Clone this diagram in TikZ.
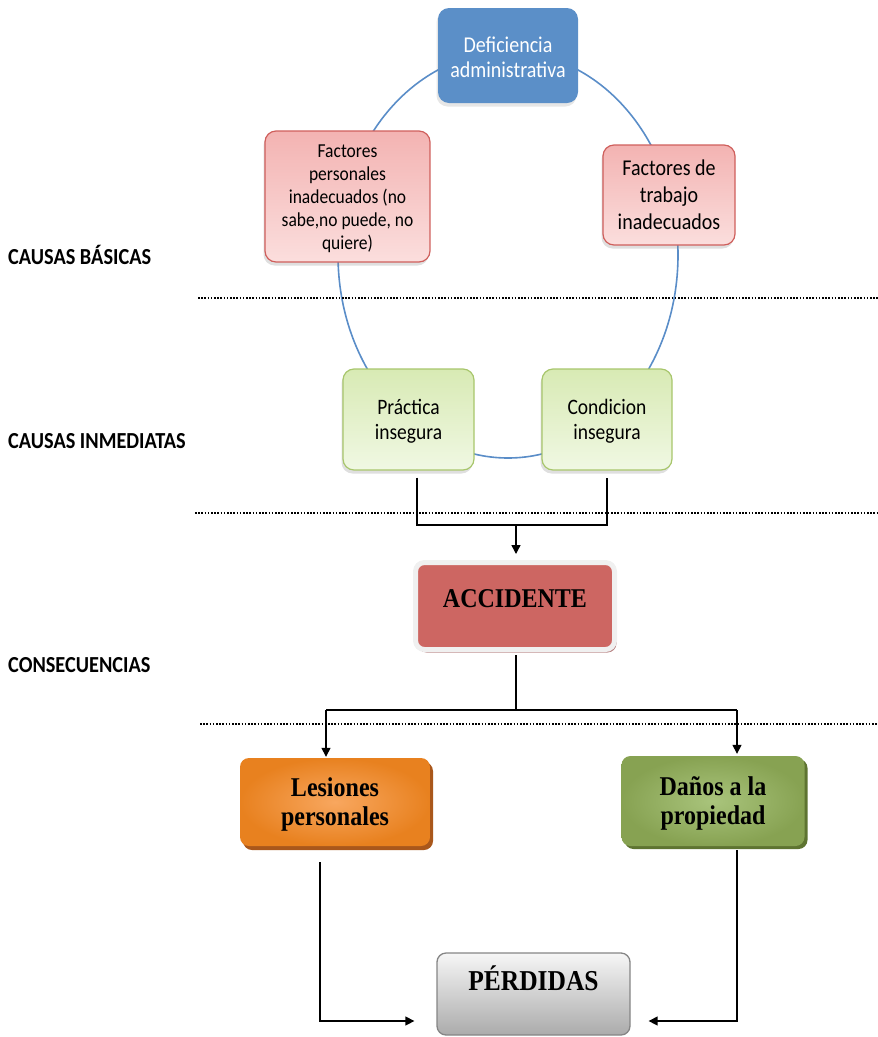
\documentclass[tikz,border=0pt]{standalone}
\usepackage{graphicx}
\usepackage{fontspec}
\setmainfont{Carlito}
\newfontfamily\tnr{Liberation Serif}
\usetikzlibrary{arrows.meta,shadows,calc}
\newcommand\tx[1]{\scalebox{1}[1.13]{\begin{tabular}{@{}c@{}}#1\end{tabular}}}
\definecolor{cblue}{HTML}{5B8FC8}
\definecolor{cring}{HTML}{5A8DC8}
\definecolor{redtop}{HTML}{F3B3B2}
\definecolor{redbot}{HTML}{FBDEDD}
\definecolor{redline}{HTML}{CF5F5C}
\definecolor{grtop}{HTML}{D8EAB4}
\definecolor{grbot}{HTML}{F0F8E3}
\definecolor{grline}{HTML}{A8C66C}
\definecolor{accfill}{HTML}{CD6662}
\definecolor{accshadow}{HTML}{B88585}
\definecolor{orin}{HTML}{F8A75F}
\definecolor{orout}{HTML}{E8811F}
\definecolor{orsh}{HTML}{A9571B}
\definecolor{dgin}{HTML}{A9C47C}
\definecolor{dgout}{HTML}{87A252}
\definecolor{dgsh}{HTML}{5E7431}
\definecolor{grytop}{HTML}{F6F6F6}
\definecolor{grybot}{HTML}{ABABAB}
\definecolor{gryline}{HTML}{858585}
\tikzset{
  softbox/.style={rounded corners=11pt, inner sep=0pt,
    drop shadow={shadow xshift=-1.5pt, shadow yshift=-3.5pt, opacity=0.25}},
  redbox/.style={softbox, draw=redline, line width=1.2pt, top color=redtop, bottom color=redbot},
  grbox/.style={softbox, draw=grline, line width=1.2pt, top color=grtop, bottom color=grbot},
  serifbox/.style={rounded corners=9pt, inner sep=0pt},
  txt/.style={inner sep=0pt, align=center},
  sans/.style={txt, font=\fontsize{#1}{22.1}\selectfont},
  serif/.style={txt, font=\tnr\bfseries\fontsize{24}{26.5}\selectfont},
  conn/.style={line width=1.4pt, black},
  arr/.style={conn, -{Triangle[length=9pt,width=9pt]}},
  sep/.style={line width=1.7pt, dash pattern=on 1.6pt off 1.6pt},
  lbl/.style={anchor=west, font=\bfseries\fontsize{20.3}{22}\selectfont, inner sep=0pt}
}
\begin{document}
\begin{tikzpicture}[x=1pt,y=-1pt]
\useasboundingbox (0,0) rectangle (878,1037);
% ring
\draw[cring, line width=1.6pt] (508,255) ellipse [x radius=170, y radius=203];
% separators
\draw[sep] (198,298) -- (878,298);
\draw[sep] (195,513) -- (878,513);
\draw[sep] (200,724) -- (878,724);
% labels
\node[lbl] (l1) at (8,258.5) {\tx{CAUSAS BÁSICAS}};
\node[lbl] (l2) at (8,443.5) {\tx{CAUSAS INMEDIATAS}};
\node[lbl] (l3) at (8,667.5) {\tx{CONSECUENCIAS}};
% boxes
\node[rounded corners=11pt, fill=cblue, inner sep=0pt,
  minimum width=140pt, minimum height=95pt,
  drop shadow={shadow xshift=-1.5pt, shadow yshift=-3.5pt, opacity=0.2}] (def) at (508,55.5) {};
\node[sans=20, text=white] (defT) at ([yshift=-4.5pt]def.center) {\tx{Deficiencia\\administrativa}};
\node[redbox, minimum width=165pt, minimum height=131pt] (fp) at (347.5,196.5) {};
\node[txt, font=\fontsize{17.5}{20.4}\selectfont] (fpT) at ([yshift=-2pt]fp.center)
  {\tx{Factores\\personales\\inadecuados (no\\sabe,no puede, no\\quiere)}};
\node[redbox, minimum width=132pt, minimum height=100pt] (ft) at (669,195) {};
\node[txt, font=\fontsize{20}{23.9}\selectfont] (ftT) at ([yshift=-2.5pt]ft.center)
  {\tx{Factores de\\trabajo\\inadecuados}};
\node[grbox, minimum width=131pt, minimum height=101pt] (pr) at (408.5,419.5) {};
\node[sans=19.5] (prT) at ([yshift=-2.5pt]pr.center) {\tx{Práctica\\insegura}};
\node[grbox, minimum width=130pt, minimum height=101pt] (co) at (607,419.5) {};
\node[sans=19.5] (coT) at ([yshift=-2.5pt]co.center) {\tx{Condicion\\insegura}};
% accident
\node[serifbox, fill=accfill, draw=black!6, line width=5pt,
  minimum width=199pt, minimum height=87pt,
  drop shadow={shadow xshift=2pt, shadow yshift=-3pt, fill=accshadow, opacity=1}] (acc) at (515,606) {};
\node[serif] (accT) at ([yshift=4pt]acc.center) {\tx{ACCIDENTE}};
% consequences
\node[serifbox, inner color=orin, outer color=orout, minimum width=190pt, minimum height=88pt,
  drop shadow={shadow xshift=3pt, shadow yshift=-4pt, fill=orsh, opacity=1}] (les) at (335,802) {};
\node[serif] (lesT) at ([yshift=-3pt]les.center) {\tx{Lesiones\\personales}};
\node[serifbox, inner color=dgin, outer color=dgout, minimum width=183pt, minimum height=90pt,
  drop shadow={shadow xshift=3pt, shadow yshift=-3pt, fill=dgsh, opacity=1}] (dan) at (713,801) {};
\node[serif] (danT) at ([yshift=-3pt]dan.center) {\tx{Daños a la\\propiedad}};
\node[serifbox, top color=grytop, bottom color=grybot, draw=gryline, line width=1.3pt,
  minimum width=193pt, minimum height=82pt] (per) at (533.5,994) {};
\node[serif, font=\tnr\bfseries\fontsize{25.5}{27}\selectfont] (perT) at ([yshift=11pt]per.center) {\tx{PÉRDIDAS}};
% connectors
\coordinate (jl) at (326,710);
\coordinate (jr) at (737,710);
\coordinate (jm) at (516,525);
\coordinate (ls) at (320,862);
\coordinate (rs) at (737,850);
\coordinate (lb) at (320,1021);
\coordinate (rb) at (737,1021);
\draw[conn] ([xshift=8.5pt,yshift=-7pt]pr.south) |- (jm) -| ([yshift=-7pt]co.south);
\draw[arr] (jm) -- ([yshift=6pt]acc.north -| jm);
\draw[conn] ([yshift=-3pt]acc.south -| jm) -- (jm |- jl);
\draw[conn] (jl) -- (jr);
\draw[arr] (jl) -- ([yshift=1pt]les.north -| jl);
\draw[arr] (jr) -- ([yshift=2pt]dan.north -| jr);
\draw[arr] (ls) |- ([xshift=-22pt]per.west |- lb);
\draw[arr] (rs) |- ([xshift=18pt]per.east |- rb);
\end{tikzpicture}
\end{document}
